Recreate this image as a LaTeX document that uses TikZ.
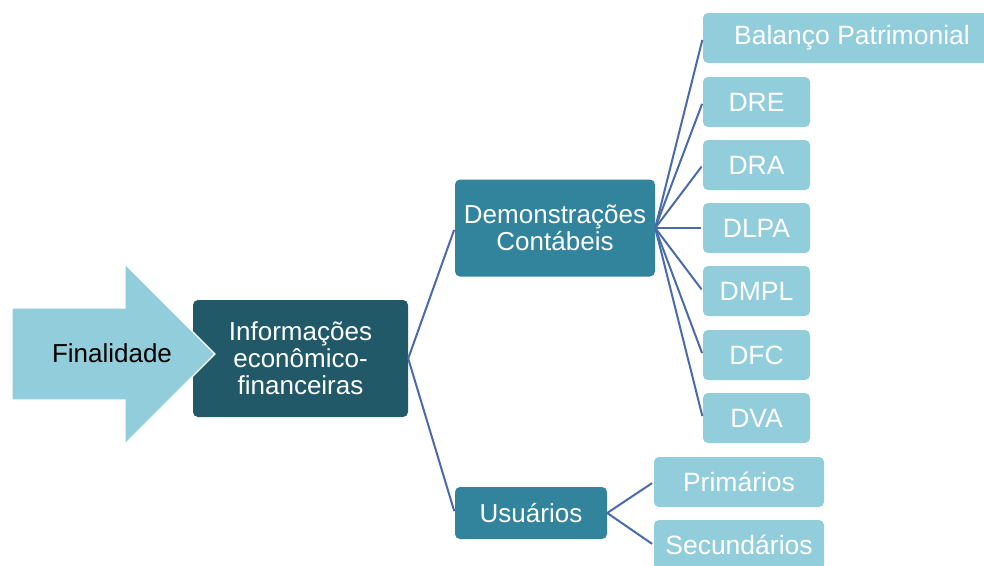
\documentclass[tikz,border=0pt]{standalone}
\usepackage{fontspec}
\setmainfont{Liberation Sans}
\begin{document}
\begin{tikzpicture}[x=1pt,y=-1pt]
\definecolor{lightb}{HTML}{92CDDC}
\definecolor{midb}{HTML}{31849B}
\definecolor{darkb}{HTML}{215968}
\definecolor{linec}{HTML}{4A6AAA}
\tikzset{
  box/.style={rounded corners=5pt, inner sep=0pt, align=center, text=white,
    font=\fontsize{26}{27}\selectfont},
  leaf/.style={box, fill=lightb, font=\fontsize{26.5}{27}\selectfont},
  conn/.style={draw=linec, line width=2pt, shorten >=2pt}
}
\useasboundingbox (0,0) rectangle (984,565);
\clip (0,0) rectangle (984,565);
\fill[white] (0,0) rectangle (984,565);
% main nodes
\node[box, fill=darkb, minimum width=215pt, minimum height=117pt] (info) at (300.5,358.5) {Informações\\econômico-\\financeiras};
\node[box, fill=midb, minimum width=200pt, minimum height=97pt] (dem) at (555,228) {Demonstrações\\Contábeis};
\node[box, fill=midb, minimum width=152pt, minimum height=52pt] (usu) at (531,513) {Usuários};
% arrow (drawn over the left edge of the main box)
\filldraw[fill=lightb, draw=white, line width=1.2pt, line join=miter] (12,308) -- (125,308) -- (125,264) -- (215,354) -- (125,444) -- (125,400) -- (12,400) -- cycle;
\node[font=\fontsize{26}{27}\selectfont, text=black, inner sep=0pt] (fin) at (112,353) {Finalidade};
% leaves
\node[leaf, minimum width=298pt, minimum height=50pt] (bp) at (852,38) {Balanço Patrimonial};
\node[leaf, minimum width=107pt, minimum height=50pt] (dre) at (756.5,102) {DRE};
\node[leaf, minimum width=107pt, minimum height=50pt] (dra) at (756.5,165) {DRA};
\node[leaf, minimum width=107pt, minimum height=50pt] (dlpa) at (756.5,228) {DLPA};
\node[leaf, minimum width=107pt, minimum height=50pt] (dmpl) at (756.5,291) {DMPL};
\node[leaf, minimum width=107pt, minimum height=50pt] (dfc) at (756.5,355) {DFC};
\node[leaf, minimum width=107pt, minimum height=50pt] (dva) at (756.5,418) {DVA};
\node[leaf, minimum width=170pt, minimum height=50pt] (pri) at (739,482) {Primários};
\node[leaf, minimum width=170pt, minimum height=50pt] (sec) at (739,545) {Secundários};
% connectors
\draw[conn] (info.east) -- (dem.west);
\draw[conn] (info.east) -- (usu.west);
\foreach \t in {bp,dre,dra,dlpa,dmpl,dfc,dva}{
  \draw[conn] (dem.east) -- (\t.west);
}
\draw[conn] (usu.east) -- (pri.west);
\draw[conn] (usu.east) -- (sec.west);
\end{tikzpicture}
\end{document}
